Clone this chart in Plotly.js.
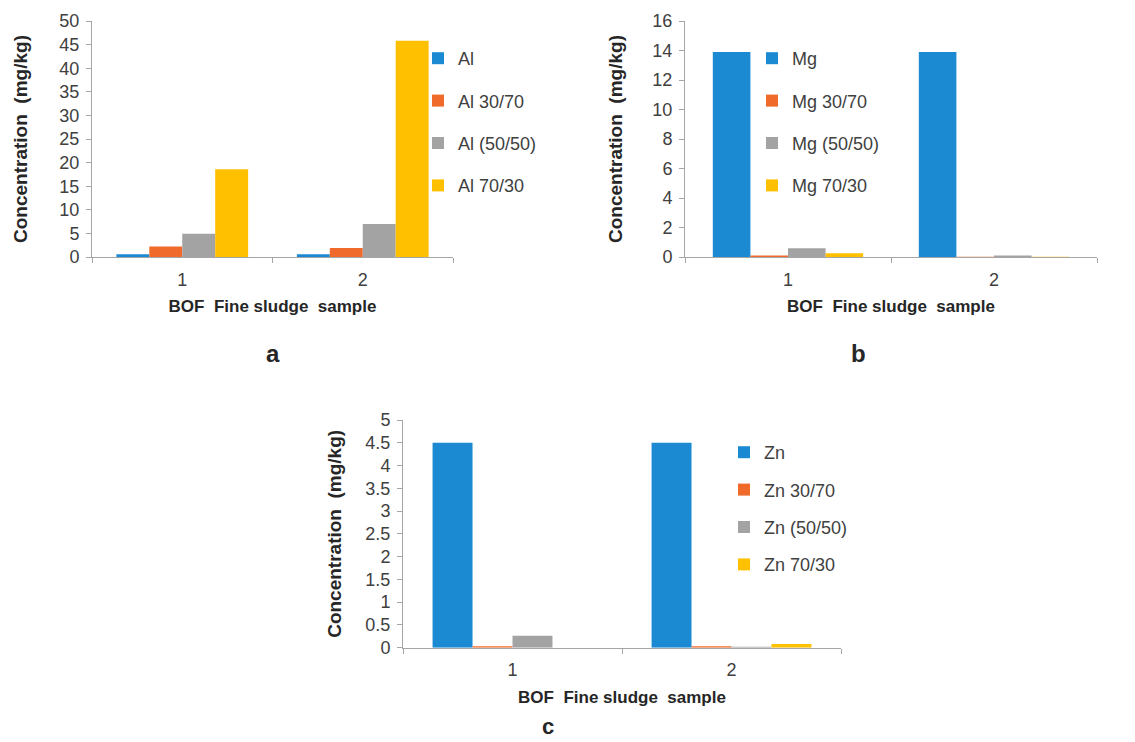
<!DOCTYPE html>
<html>
<head>
<meta charset="utf-8">
<script src="https://cdn.plot.ly/plotly-3.0.1.min.js"></script>
<style>html,body{margin:0;padding:0;background:#fff;}#chart{width:1135px;height:742px;}</style>
</head>
<body>
<div id="chart"></div>
<script>
// ---- data ----
const samples = ["1", "2"];
const alNames = ["Al", "Al 30/70", "Al (50/50)", "Al 70/30"];
const alValues = [
  [0.6, 0.6],
  [2.2, 1.9],
  [4.9, 7.0],
  [18.6, 45.8]
];
const mgNames = ["Mg", "Mg 30/70", "Mg (50/50)", "Mg 70/30"];
const mgValues = [
  [13.9, 13.9],
  [0.1, 0.02],
  [0.6, 0.1],
  [0.25, 0.02]
];
const znNames = ["Zn", "Zn 30/70", "Zn (50/50)", "Zn 70/30"];
const znValues = [
  [4.5, 4.5],
  [0.03, 0.03],
  [0.26, 0.02],
  [0.0, 0.08]
];
const seriesColors = ["#1b8ad3", "#f06b2b", "#a3a3a3", "#ffc000"];
const yTitle = "Concentration  (mg/kg)";
const xTitle = "BOF  Fine sludge  sample";
const panelLabels = ["a", "b", "c"];

// ---- layout helpers (pixel -> fraction) ----
const W = 1135, H = 742;
const fx = p => p / W;
const fy = p => 1 - p / H;

const traces = [];
function addPanel(names, values, xa, ya, legendId) {
  names.forEach((n, i) => {
    traces.push({
      type: "bar",
      name: n,
      x: samples,
      y: values[i],
      xaxis: xa,
      yaxis: ya,
      legend: legendId,
      legendgroup: legendId + "_" + i,
      marker: {color: seriesColors[i]},
      hoverinfo: "name+y"
    });
  });
}
addPanel(alNames, alValues, "x", "y", "legend");
addPanel(mgNames, mgValues, "x2", "y2", "legend2");
addPanel(znNames, znValues, "x3", "y3", "legend3");

const FAM = "Liberation Sans, Arial, sans-serif";
const tickFont = {family: FAM, size: 18, color: "#404040"};
const yTitleFont = {family: FAM, size: 19, color: "#262626", weight: "bold"};
const xTitleFont = {family: FAM, size: 17, color: "#262626", weight: "bold"};
const legFont = {family: FAM, size: 18, color: "#404040"};

function xAxis(domain, anchor) {
  return {
    domain: domain, anchor: anchor, type: "category",
    showline: true, linecolor: "#a6a6a6", linewidth: 1,
    ticks: "outside", tickson: "boundaries", ticklen: 5, tickcolor: "#a6a6a6",
    ticklabelstandoff: 6,
    tickfont: tickFont, showgrid: false, zeroline: false,
    title: {text: "<b>" + xTitle + "</b>", font: xTitleFont, standoff: 11}
  };
}
function yAxis(domain, anchor, range, dtick, standoff) {
  return {
    domain: domain, anchor: anchor, range: range, dtick: dtick,
    showline: true, linecolor: "#a6a6a6", linewidth: 1,
    ticks: "outside", ticklen: 5, tickcolor: "#a6a6a6",
    ticklabelstandoff: 3,
    tickfont: tickFont, showgrid: false, zeroline: false,
    title: {text: "<b>" + yTitle + "</b>", font: yTitleFont, standoff: standoff}
  };
}
function legend(xpx, ypx, gap) {
  return {
    x: fx(xpx), y: fy(ypx), xanchor: "left", yanchor: "top",
    font: legFont, tracegroupgap: gap, bgcolor: "rgba(0,0,0,0)",
    itemwidth: 30
  };
}
function label(t, xpx, ypx, size) {
  return {text: "<b>" + t + "</b>", x: fx(xpx), y: fy(ypx), xref: "paper", yref: "paper",
          xanchor: "center", yanchor: "middle", showarrow: false,
          font: {family: FAM, size: size, color: "#262626"}};
}

const layout = {
  width: W, height: H,
  margin: {l: 0, r: 0, t: 0, b: 0},
  paper_bgcolor: "#ffffff", plot_bgcolor: "#ffffff",
  barmode: "group", bargap: 0.27, bargroupgap: 0,
  showlegend: true,
  xaxis: xAxis([fx(92), fx(453)], "y"),
  yaxis: yAxis([fy(257), fy(21)], "x", [0, 50], 5, 26),
  xaxis2: xAxis([fx(685), fx(1097)], "y2"),
  yaxis2: yAxis([fy(257), fy(21)], "x2", [0, 16], 2, 24),
  xaxis3: xAxis([fx(403), fx(841)], "y3"),
  yaxis3: yAxis([fy(647.7), fy(420)], "x3", [0, 5], 0.5, 18),
  legend: legend(418, 40, 16),
  legend2: legend(752, 40, 16),
  legend3: legend(724, 434, 11),
  annotations: [
    label(panelLabels[0], 273, 353, 24),
    label(panelLabels[1], 858, 353, 24),
    label(panelLabels[2], 548, 726, 22)
  ]
};

Plotly.newPlot("chart", traces, layout, {displayModeBar: false, staticPlot: true});
</script>
</body>
</html>
